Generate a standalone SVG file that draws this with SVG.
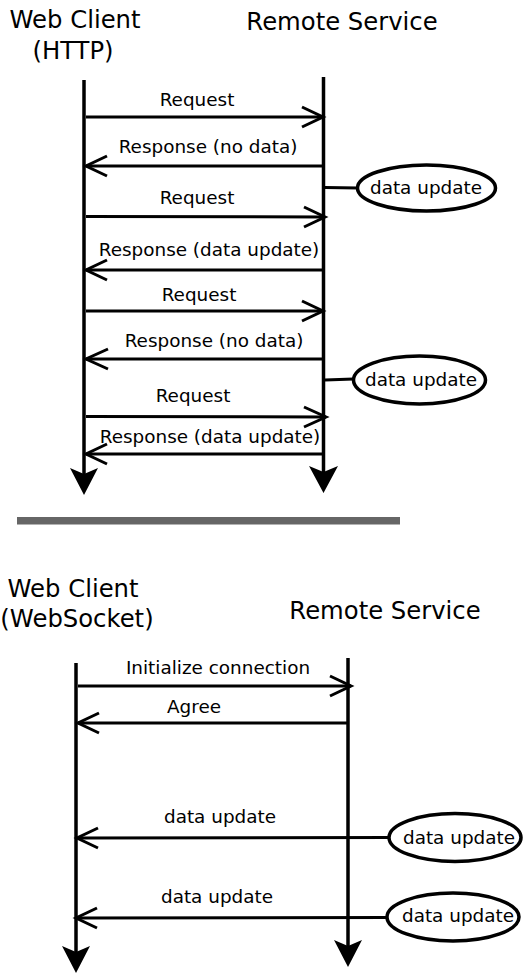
<svg xmlns="http://www.w3.org/2000/svg" width="523" height="973" viewBox="0 0 523 973">
<style>
text{font-family:"DejaVu Sans","Liberation Sans",sans-serif;fill:#000}
.t{font-size:24.3px}
.l{font-size:18.4px;text-anchor:middle}
.life{stroke:#000;stroke-width:3.5;fill:none}
.msg{stroke:#000;stroke-width:3;fill:none}
.ah{stroke:#000;stroke-width:3;fill:none}
.ell{fill:#fff;stroke:#000;stroke-width:3.5}
.head{fill:#000}
</style>
<rect width="523" height="973" fill="#fff"/>
<g id="http-client">
<text class="t" x="75" y="28" text-anchor="middle">Web Client</text>
<text class="t" x="73" y="59" text-anchor="middle">(HTTP)</text>
<line class="life" x1="84" y1="80" x2="84" y2="478"/>
<path class="head" d="M70,468 L84,474 L98,468 L84,495 Z"/>
</g>
<g id="http-service">
<text class="t" x="342" y="30" text-anchor="middle">Remote Service</text>
<line class="life" x1="323.5" y1="77" x2="323.5" y2="476"/>
<path class="head" d="M309,466 L323.5,472 L338,466 L323.5,493 Z"/>
</g>
<g id="http-update1">
<ellipse class="ell" cx="426.5" cy="188" rx="69" ry="23"/>
<text class="l" x="426" y="194">data update</text>
</g>
<g id="http-update2">
<ellipse class="ell" cx="419.5" cy="380" rx="66" ry="24"/>
<text class="l" x="421" y="386">data update</text>
</g>
<g id="separator">
<rect x="17" y="517" width="383" height="7.5" fill="#666"/>
</g>
<g id="ws-client">
<text class="t" x="73" y="597" text-anchor="middle">Web Client</text>
<text class="t" x="77" y="627" text-anchor="middle">(WebSocket)</text>
<line class="life" x1="76" y1="663" x2="76" y2="955"/>
<path class="head" d="M62,946 L76,952 L90,946 L76,973 Z"/>
</g>
<g id="ws-service">
<text class="t" x="385" y="619" text-anchor="middle">Remote Service</text>
<line class="life" x1="348" y1="658" x2="348" y2="950"/>
<path class="head" d="M334,940 L348,946 L362,940 L348,967 Z"/>
</g>
<g id="ws-update1">
<ellipse class="ell" cx="455" cy="837.5" rx="66" ry="24"/>
<text class="l" x="459" y="844">data update</text>
</g>
<g id="ws-update2">
<ellipse class="ell" cx="453" cy="917" rx="66" ry="24"/>
<text class="l" x="458" y="922">data update</text>
</g>
<g id="connectors">
<line class="msg" x1="86" y1="117" x2="323" y2="117"/>
<polyline class="ah" points="302,107 323,117 302,127"/>
<text class="l" x="197" y="106">Request</text>

<line class="msg" x1="86" y1="166" x2="323" y2="166"/>
<polyline class="ah" points="107,156 86,166 107,176"/>
<text class="l" x="208" y="153">Response (no data)</text>

<line class="msg" x1="325" y1="187.5" x2="358" y2="188"/>

<line class="msg" x1="86" y1="216.5" x2="325" y2="217"/>
<polyline class="ah" points="304,207 325,217 304,227"/>
<text class="l" x="197" y="204">Request</text>

<line class="msg" x1="86" y1="270" x2="323" y2="270"/>
<polyline class="ah" points="107,260 86,270 107,280"/>
<text class="l" x="209" y="256">Response (data update)</text>

<line class="msg" x1="86" y1="311" x2="323" y2="311"/>
<polyline class="ah" points="302,301 323,311 302,321"/>
<text class="l" x="199" y="301">Request</text>

<line class="msg" x1="86" y1="359" x2="323" y2="359"/>
<polyline class="ah" points="108,349 86,359 108,369"/>
<text class="l" x="214" y="347">Response (no data)</text>

<line class="msg" x1="325" y1="380" x2="353.5" y2="379"/>

<line class="msg" x1="86" y1="416.5" x2="326" y2="417"/>
<polyline class="ah" points="304,407 326,417 304,427"/>
<text class="l" x="193" y="402">Request</text>

<line class="msg" x1="86" y1="454" x2="323" y2="454"/>
<polyline class="ah" points="107,444 86,454 107,464"/>
<text class="l" x="210" y="443">Response (data update)</text>

<line class="msg" x1="78" y1="686" x2="351" y2="686"/>
<polyline class="ah" points="330,676 351,686 330,696"/>
<text class="l" x="218" y="674">Initialize connection</text>

<line class="msg" x1="78" y1="723" x2="348" y2="723"/>
<polyline class="ah" points="99,713 78,723 99,733"/>
<text class="l" x="194" y="713">Agree</text>

<line class="msg" x1="78" y1="838" x2="389" y2="837.5"/>
<polyline class="ah" points="98,828 77,838 98,848"/>
<text class="l" x="220" y="823">data update</text>

<line class="msg" x1="78" y1="918" x2="387" y2="917.5"/>
<polyline class="ah" points="97,908 76,918 97,928"/>
<text class="l" x="217" y="903">data update</text>
</g>
</svg>
